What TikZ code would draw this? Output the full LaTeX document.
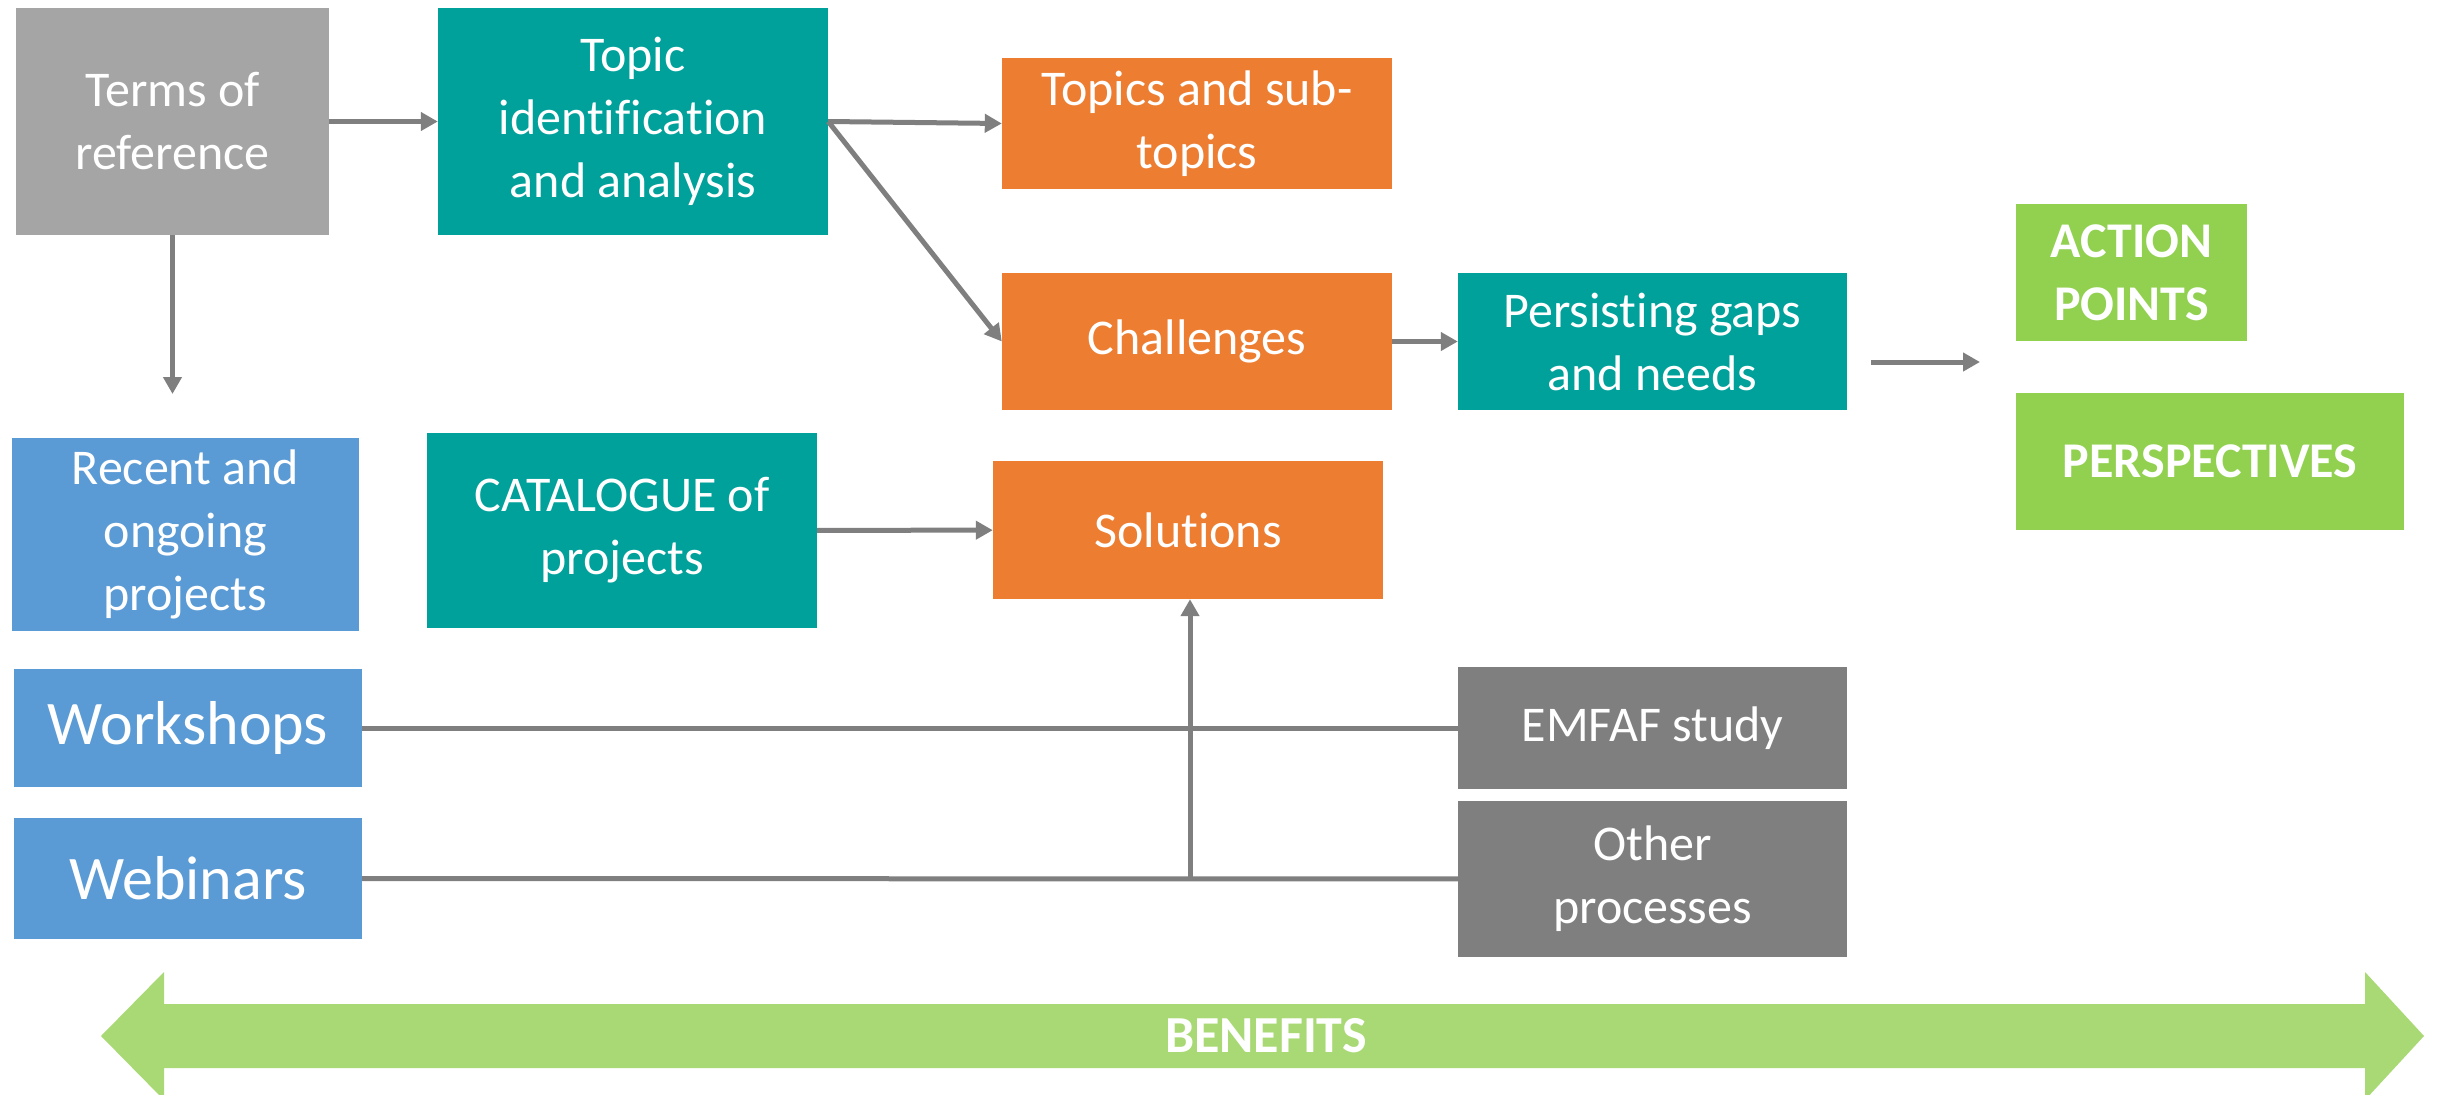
\documentclass[tikz,border=0pt]{standalone}
\usepackage{fontspec}
\setmainfont{Carlito}[Ligatures={NoCommon}]
\usetikzlibrary{arrows.meta}

\definecolor{termsgrey}{HTML}{A5A5A5}
\definecolor{boxteal}{HTML}{00A19B}
\definecolor{boxorange}{HTML}{ED7D31}
\definecolor{boxblue}{HTML}{5B9BD5}
\definecolor{boxgrey}{HTML}{7F7F7F}
\definecolor{boxgreen}{HTML}{92D050}
\definecolor{benefitgreen}{HTML}{A9D974}
\definecolor{linegrey}{HTML}{7F7F7F}

\begin{document}
\begin{tikzpicture}
  [x=1pt,y=-1pt,
   box/.style={rectangle, inner sep=0pt, text=white, align=center, font=\fontsize{50}{63}\selectfont},
   bigbox/.style={box, font=\fontsize{62}{74}\selectfont},
   boldbox/.style={box, fill=boxgreen, font=\fontsize{50}{63}\bfseries\selectfont},
   link/.style={-{Triangle[length=17pt,width=18pt]}, line width=5pt, draw=linegrey},
   feed/.style={line width=5pt, draw=linegrey}]

  \useasboundingbox (0,0) rectangle (2445,1095);

  %%%%%%%%%%%%%%%%%%%%%% ROW 1 %%%%%%%%%%%%%%%%%%%%%%

  \node[box, fill=termsgrey, minimum width=313pt, minimum height=227pt] (terms) at (172.5,121.5) {Terms of\\reference};
  \node[box, fill=boxteal, minimum width=390pt, minimum height=227pt] (topic) at (633,121.5) {Topic\\identification\\and analysis};
  \node[box, fill=boxorange, minimum width=390pt, minimum height=131pt] (subtop) at (1197,123.5) {Topics and sub-\\topics};
  \node[box, fill=boxorange, minimum width=390pt, minimum height=137pt] (chall) at (1197,341.5) {Challenges};
  \node[box, fill=boxteal, minimum width=389pt, minimum height=137pt] (gaps) at (1652.5,341.5) {Persisting gaps\\and needs};
  \node[boldbox, minimum width=231pt, minimum height=137pt] (action) at (2131.5,272.5) {ACTION\\POINTS};
  \node[boldbox, minimum width=388pt, minimum height=137pt] (persp) at (2210,461.5) {PERSPECTIVES};

  %%%%%%%%%%%%%%%%%%%%%% ROW 2 %%%%%%%%%%%%%%%%%%%%%%

  \node[box, fill=boxblue, minimum width=347pt, minimum height=193pt] (recent) at (185.5,534.5) {Recent and\\ongoing\\projects};
  \node[box, fill=boxteal, minimum width=390pt, minimum height=195pt] (catal) at (622,530.5) {CATALOGUE of\\projects};
  \node[box, fill=boxorange, minimum width=390pt, minimum height=138pt] (solut) at (1188,530) {Solutions};

  %%%%%%%%%%%%%%%%%%%%%% ROW 3 %%%%%%%%%%%%%%%%%%%%%%

  \node[bigbox, fill=boxblue, minimum width=348pt, minimum height=118pt] (works) at (188,728) {Workshops};
  \node[bigbox, fill=boxblue, minimum width=348pt, minimum height=121pt] (webin) at (188,878.5) {Webinars};
  \node[box, fill=boxgrey, minimum width=389pt, minimum height=122pt] (emfaf) at (1652.5,728) {EMFAF study};
  \node[box, fill=boxgrey, minimum width=389pt, minimum height=156pt] (other) at (1652.5,879) {Other\\processes};

  \coordinate (recentin) at (172.5,394);
  \coordinate (gapsout) at (1871,362);
  \coordinate (gapsend) at (1980,362);
  \coordinate (merge) at (1190,879);

  \foreach \fromnode/\tonode in {terms.east/topic.west,topic.east/subtop.west,topic.east/chall.west,chall/gaps,catal/solut,terms/recentin,gapsout/gapsend}
    \draw[link] (\fromnode) -- (\tonode);

  \foreach \fromnode/\tonode in {works/emfaf,webin/other}
    \draw[feed] (\fromnode) -- (\tonode);

  \draw[link] (merge) -- (solut.south -| merge);

  % benefits band
  \fill[benefitgreen] (101,1036) -- (164,972) -- (164,1004) -- (2365,1004) -- (2365,972)
    -- (2424,1036) -- (2365,1100) -- (2365,1068) -- (164,1068) -- (164,1100) -- cycle;
  \node[text=white, font=\fontsize{52}{60}\bfseries\selectfont] (benefits) at (1266,1036) {BENEFITS};

\end{tikzpicture}
\end{document}
